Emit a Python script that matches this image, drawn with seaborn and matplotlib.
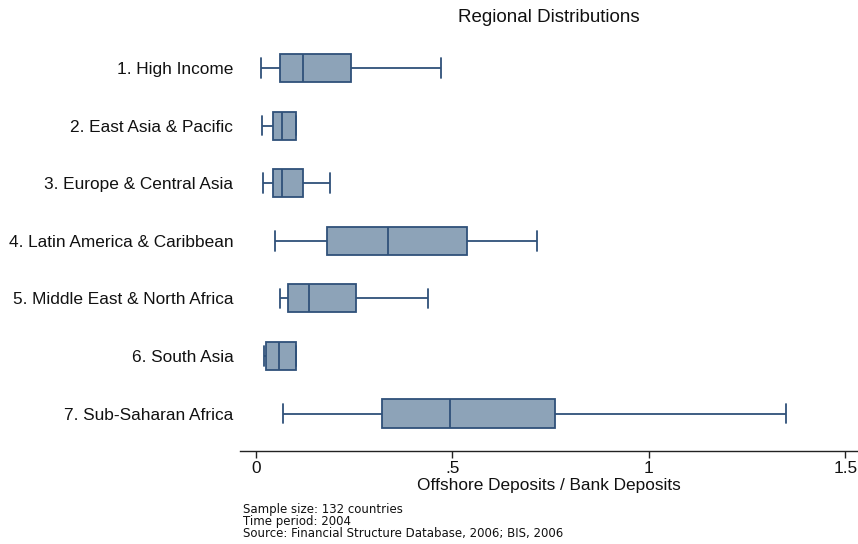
import numpy as np
import pandas as pd
import matplotlib
matplotlib.use("Agg")
import matplotlib.pyplot as plt
import seaborn as sns

# five-number summaries (lower whisker, q1, median, q3, upper whisker)
regions = ["1. High Income", "2. East Asia & Pacific", "3. Europe & Central Asia",
           "4. Latin America & Caribbean", "5. Middle East & North Africa",
           "6. South Asia", "7. Sub-Saharan Africa"]
lower = [0.012, 0.015, 0.018, 0.048, 0.062, 0.021, 0.069]
q1 = [0.061, 0.043, 0.043, 0.181, 0.081, 0.025, 0.321]
median = [0.120, 0.065, 0.065, 0.335, 0.135, 0.059, 0.493]
q3 = [0.241, 0.103, 0.120, 0.537, 0.255, 0.102, 0.760]
upper = [0.471, 0.103, 0.189, 0.715, 0.438, 0.102, 1.350]

xticks = [0, 0.5, 1, 1.5]
xtick_labels = ["0", ".5", "1", "1.5"]
notes = ["Sample size: 132 countries", "Time period: 2004",
         "Source: Financial Structure Database, 2006; BIS, 2006"]

# with 5 values, linear percentiles give exactly q1 / median / q3, and whis=inf gives min / max
rows = []
for i, r in enumerate(regions):
    for v in (lower[i], q1[i], median[i], q3[i], upper[i]):
        rows.append({"region": r, "value": v})
df = pd.DataFrame(rows)

sns.set_style("white")
plt.rcParams["font.family"] = ["Liberation Sans", "DejaVu Sans"]

fig = plt.figure(figsize=(8.58, 5.44), dpi=100)
ax = fig.add_axes([0.28, 0.171, 0.72, 0.759])

fill = "#8da3b8"
edge = "#2f5179"
sns.boxplot(data=df, x="value", y="region", order=regions, orient="h",
            whis=np.inf, width=0.49, color=fill, linecolor=edge, linewidth=1.3,
            saturation=1, showfliers=False, capwidths=0.34, ax=ax)
for p in ax.patches:
    p.set_facecolor(fill)

ax.set_xlim(-0.04, 1.532)
ax.set_ylim(6.65, -0.52)
ax.set_xticks(xticks)
ax.set_xticklabels(xtick_labels, fontsize=12.4)
ax.tick_params(axis="x", direction="out", length=5, width=1, color="#222222",
               bottom=True, pad=2, labelcolor="#111111")
ax.tick_params(axis="y", length=0, labelsize=12.4, labelcolor="#111111", pad=5)
ax.set_ylabel("")
ax.set_xlabel("Offshore Deposits / Bank Deposits", fontsize=12.4, color="#111111", labelpad=2)
for s in ["top", "right", "left"]:
    ax.spines[s].set_visible(False)
ax.spines["bottom"].set_color("#222222")
ax.spines["bottom"].set_linewidth(1)

fig.text(0.64, 0.967, "Regional Distributions", ha="center", va="center",
         fontsize=13.5, color="#111111")
for k, line in enumerate(notes):
    fig.text(0.283, 1 - (509 + 12 * k) / 544, line, ha="left", va="center",
             fontsize=8.5, color="#111111", family="DejaVu Sans")

fig.savefig("out.png", dpi=100)
